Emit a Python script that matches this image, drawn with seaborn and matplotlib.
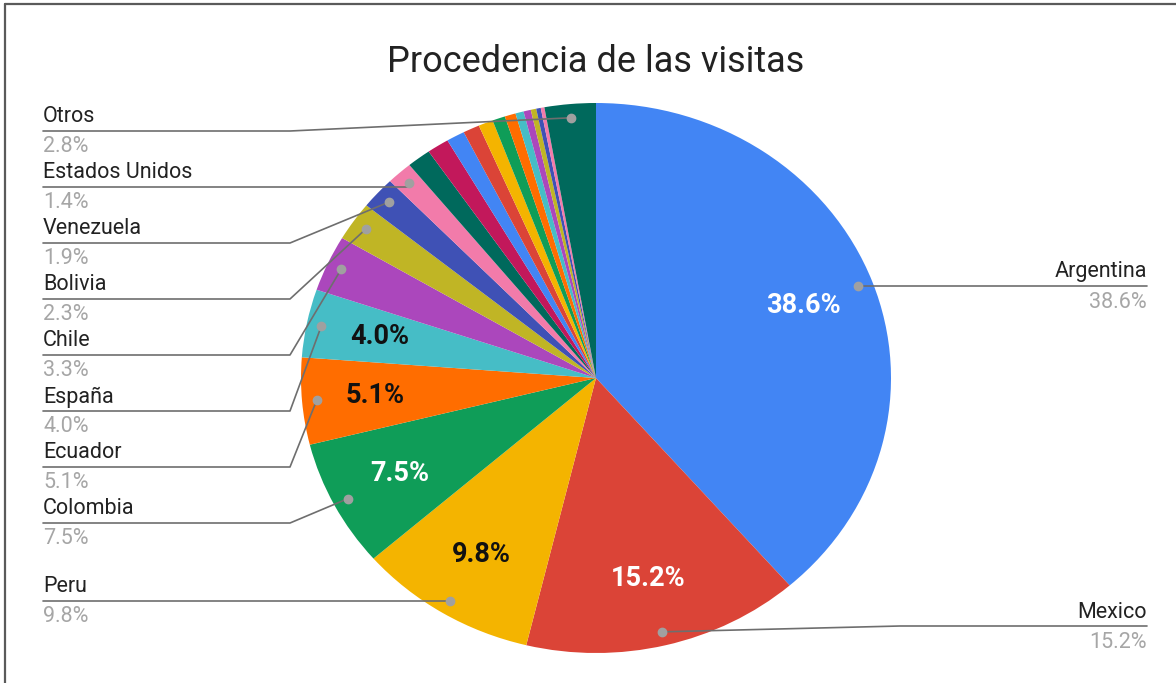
import matplotlib
matplotlib.use("Agg")
import matplotlib.pyplot as plt
from matplotlib.lines import Line2D
import numpy as np
import seaborn as sns

# ----- Datos ---------------------------------------------------------------
paises = ["Argentina", "Mexico", "Peru", "Colombia", "Ecuador", "España",
          "Chile", "Bolivia", "Venezuela", "Estados Unidos",
          "p11", "p12", "p13", "p14", "p15", "p16",
          "p17", "p18", "p19", "p20", "p21", "p22", "Otros"]
porcentajes = [38.6, 15.2, 9.8, 7.5, 5.1, 4.0,
               3.3, 2.3, 1.9, 1.4,
               1.3, 1.2, 1.0, 0.9, 0.8, 0.7,
               0.6, 0.45, 0.4, 0.3, 0.25, 0.2, 2.8]
colores = ["#4285F4", "#DB4437", "#F4B400", "#0F9D58", "#FF6D00", "#46BDC6",
           "#AB47BC", "#C0B525", "#3F51B5", "#F27BAA",
           "#00695C", "#C2185B", "#4285F4", "#DB4437", "#F4B400", "#0F9D58",
           "#FF6D00", "#46BDC6", "#AB47BC", "#C0B525", "#3F51B5", "#F27BAA",
           "#00695C"]
etiquetas_izq = ["Otros", "Estados Unidos", "Venezuela", "Bolivia", "Chile",
                 "España", "Ecuador", "Colombia", "Peru"]
etiquetas_der = ["Argentina", "Mexico"]
blanco = ["Argentina", "Mexico", "Colombia"]

# ----- Layout (pixeles) -------------------------------------------------------
W, H = 1176, 683
CX, CY, RX, RY = 596, 378, 295, 275
filas_izq = [131, 187, 243, 299, 355, 411, 467, 523, 601]
filas_der = [286, 626]


def px(x, y):
    return (x - CX) / RX, (CY - y) / RY


sns.set_style("white")
plt.rcParams["font.family"] = ["Roboto", "DejaVu Sans"]

fig = plt.figure(figsize=(W / 100, H / 100), dpi=100)
ax = fig.add_axes([0, 0, 1, 1])

wedges, _, autotexts = ax.pie(
    porcentajes, colors=sns.color_palette(colores), startangle=90,
    counterclock=False, radius=1, wedgeprops=dict(linewidth=0),
    autopct=lambda p: f"{p:.1f}%" if p >= 3.95 else "", pctdistance=0.75,
    textprops=dict(fontsize=19.5, fontweight="bold"))
ax.set_aspect("auto")
ax.set_xlim(px(0, 0)[0], px(W, 0)[0])
ax.set_ylim(px(0, H)[1], px(0, 0)[1])
ax.axis("off")

for nombre, t in zip(paises, autotexts):
    t.set_color("white" if nombre in blanco else "#111111")

gris_linea = "#6e6e6e"


def punto(nombre):
    w = wedges[paises.index(nombre)]
    th = np.deg2rad((w.theta1 + w.theta2) / 2)
    return 0.95 * np.cos(th), 0.95 * np.sin(th)


def etiqueta(nombre, y_line, lado):
    i = paises.index(nombre)
    dx, dy = punto(nombre)
    ax.plot(dx, dy, "o", ms=6, color="#a0a0a0", zorder=5)
    if lado == "izq":
        x0 = px(43, 0)[0]
        xe = px(290, 0)[0]
        ha = "left"
    else:
        x0 = px(1147, 0)[0]
        xe = px(900, 0)[0]
        ha = "right"
    yl = px(0, y_line)[1]
    if abs(yl - dy) < 0.02:
        ax.plot([x0, dx], [yl, yl], color=gris_linea, lw=1.2, zorder=4)
    else:
        ax.plot([x0, xe, dx], [yl, yl, dy], color=gris_linea, lw=1.2, zorder=4)
    ax.text(x0, px(0, y_line - 14)[1], nombre, ha=ha, va="center",
            fontsize=15.5, color="#222222")
    ax.text(x0, px(0, y_line + 16)[1], f"{porcentajes[i]:.1f}%", ha=ha,
            va="center", fontsize=15.5, color="#a6a6a6")


for nombre, y in zip(etiquetas_izq, filas_izq):
    etiqueta(nombre, y, "izq")
for nombre, y in zip(etiquetas_der, filas_der):
    etiqueta(nombre, y, "der")

ax.text(*px(CX, 62), "Procedencia de las visitas", ha="center", va="center",
        fontsize=26, color="#222222")

# borde
fig.add_artist(Line2D([5 / W, 5 / W], [0, 1 - 4 / H], color="#5a5a5a", lw=1.6,
                      transform=fig.transFigure))
fig.add_artist(Line2D([5 / W, 1], [1 - 4 / H, 1 - 4 / H], color="#5a5a5a", lw=1.6,
                      transform=fig.transFigure))

fig.savefig("out.png", dpi=100)
